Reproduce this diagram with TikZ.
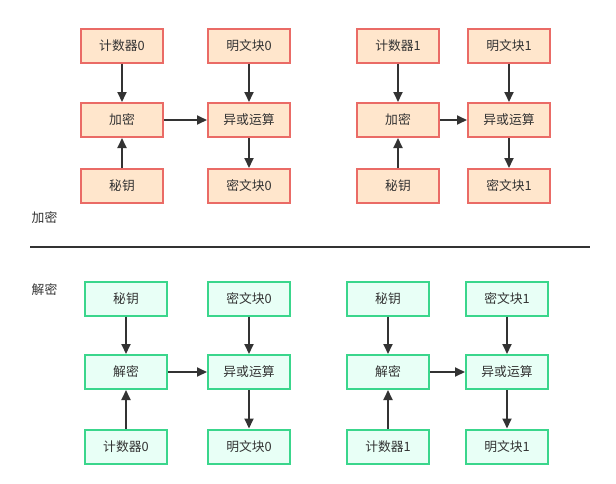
\documentclass[tikz,border=0pt]{standalone}
\usepackage{fontspec}
\setmainfont{Noto Sans CJK SC}
\usetikzlibrary{arrows.meta}
\definecolor{encfill}{RGB}{255,230,204}
\definecolor{encdraw}{RGB}{234,107,102}
\definecolor{decfill}{RGB}{232,255,246}
\definecolor{decdraw}{RGB}{58,214,140}
\definecolor{txt}{RGB}{51,51,51}
\tikzset{
  box/.style={minimum width=82pt, minimum height=34pt, line width=2pt, inner sep=0pt, font=\fontsize{12.8}{14}\selectfont, text=txt},
  encbox/.style={box, draw=encdraw, fill=encfill},
  decbox/.style={box, draw=decdraw, fill=decfill},
  arr/.style={-{Triangle[length=10pt,width=9pt]}, line width=1.8pt, draw=txt},
  lbl/.style={font=\fontsize{12.8}{14}\selectfont, text=txt}
}
\begin{document}
\begin{tikzpicture}[x=1pt,y=-1pt]
\useasboundingbox (0,0) rectangle (616,483);
% encryption group 0
\node[encbox] (c0) at (122,45.5) {计数器0};
\node[encbox] (e0) at (122,120) {加密};
\node[encbox] (k0) at (122,185.5) {秘钥};
\node[encbox] (p0) at (249,45.5) {明文块0};
\node[encbox] (x0) at (249,120) {异或运算};
\node[encbox] (o0) at (249,186) {密文块0};
% encryption group 1
\node[encbox] (c1) at (398,45.5) {计数器1};
\node[encbox] (e1) at (398,120) {加密};
\node[encbox] (k1) at (398,186) {秘钥};
\node[encbox] (p1) at (509,45.5) {明文块1};
\node[encbox] (x1) at (509,120) {异或运算};
\node[encbox] (o1) at (509,186) {密文块1};
\draw[arr] (c0) -- (e0);
\draw[arr] (k0) -- (e0);
\draw[arr] (e0) -- (x0);
\draw[arr] (p0) -- (x0);
\draw[arr] (x0) -- (o0);
\draw[arr] (c1) -- (e1);
\draw[arr] (k1) -- (e1);
\draw[arr] (e1) -- (x1);
\draw[arr] (p1) -- (x1);
\draw[arr] (x1) -- (o1);
% labels and separator
\node[lbl] (le) at (44.5,218) {加密};
\coordinate (sl) at (30,247);
\coordinate (sr) at (590,247);
\draw[line width=2pt, draw=txt] (sl) -- (sr);
\node[lbl] (ld) at (44.5,290) {解密};
% decryption group 0
\node[decbox] (dk0) at (126,298.5) {秘钥};
\node[decbox] (dd0) at (126,372) {解密};
\node[decbox] (dc0) at (126,446.5) {计数器0};
\node[decbox] (di0) at (249,298.5) {密文块0};
\node[decbox] (dx0) at (249,372) {异或运算};
\node[decbox] (dp0) at (249,446.5) {明文块0};
% decryption group 1
\node[decbox] (dk1) at (388,298.5) {秘钥};
\node[decbox] (dd1) at (388,372) {解密};
\node[decbox] (dc1) at (388,446.5) {计数器1};
\node[decbox] (di1) at (507,298.5) {密文块1};
\node[decbox] (dx1) at (507,372) {异或运算};
\node[decbox] (dp1) at (507,446.5) {明文块1};
\draw[arr] (dk0) -- (dd0);
\draw[arr] (dc0) -- (dd0);
\draw[arr] (dd0) -- (dx0);
\draw[arr] (di0) -- (dx0);
\draw[arr] (dx0) -- (dp0);
\draw[arr] (dk1) -- (dd1);
\draw[arr] (dc1) -- (dd1);
\draw[arr] (dd1) -- (dx1);
\draw[arr] (di1) -- (dx1);
\draw[arr] (dx1) -- (dp1);
\end{tikzpicture}
\end{document}
